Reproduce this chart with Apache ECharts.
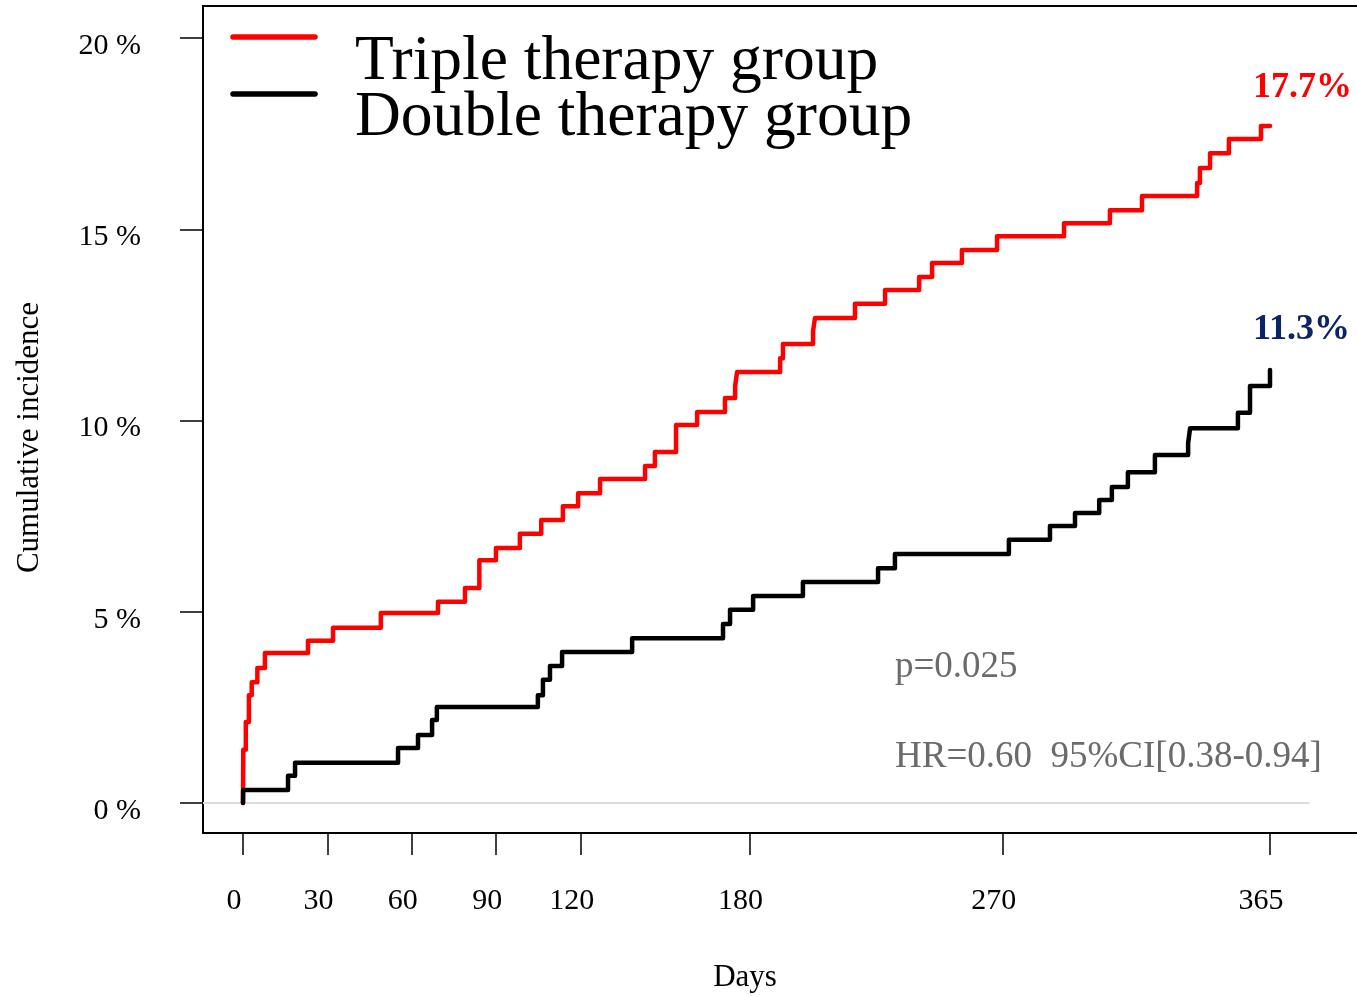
<!DOCTYPE html>
<html><head><meta charset="utf-8">
<script src="https://cdn.jsdelivr.net/npm/echarts@6/dist/echarts.min.js"></script>
<style>html,body{margin:0;padding:0;background:#fff}#c{width:1357px;height:996px}</style>
</head><body><div id="c"></div>
<script>
// ---- data ----
const xTicks = [0, 30, 60, 90, 120, 180, 270, 365];
const yTicks = [0, 5, 10, 15, 20];
const seriesNames = ['Triple therapy group', 'Double therapy group'];
const tripleDays = [0, 0.1, 1.0, 2.1, 3.1, 5.1, 7.8, 23.1, 32.0, 49.0, 69.3, 78.9, 84.0, 89.9, 98.4, 106.0, 113.7, 119.1, 126.9, 142.9, 146.4, 153.9, 161.4, 171.3, 174.9, 175.6, 190.9, 191.9, 202.6, 203.3, 217.5, 228.2, 240.3, 244.9, 255.5, 268.0, 291.8, 308.1, 319.5, 339.1, 340.1, 343.7, 350.4, 361.8, 365];
const triplePct  = [0, 1.39, 2.12, 2.82, 3.16, 3.53, 3.92, 4.24, 4.58, 4.97, 5.26, 5.62, 6.35, 6.67, 7.04, 7.40, 7.76, 8.10, 8.47, 8.81, 9.18, 9.88, 10.22, 10.59, 10.90, 11.27, 11.63, 12.00, 12.34, 12.68, 13.05, 13.41, 13.75, 14.12, 14.46, 14.82, 15.16, 15.50, 15.87, 16.21, 16.60, 16.99, 17.36, 17.70, 17.70];
const doubleDays = [0, 0.05, 16.0, 18.5, 55.1, 62.2, 67.2, 68.9, 104.8, 106.6, 109.1, 113.4, 138.3, 170.6, 173.1, 181.3, 199.0, 225.7, 231.7, 272.2, 286.8, 295.7, 304.3, 308.8, 314.5, 324.1, 335.9, 336.6, 353.6, 357.9, 365];
const doublePct  = [0, 0.34, 0.71, 1.05, 1.44, 1.78, 2.17, 2.51, 2.82, 3.22, 3.58, 3.95, 4.31, 4.68, 5.05, 5.41, 5.78, 6.14, 6.51, 6.88, 7.24, 7.58, 7.92, 8.26, 8.65, 9.10, 9.41, 9.80, 10.20, 10.90, 11.32];
const tripleFinal = '17.7%';
const doubleFinal = '11.3%';
const pText = 'p=0.025';
const hrText = 'HR=0.60  95%CI[0.38-0.94]';
const xName = 'Days';
const yName = 'Cumulative incidence';

// ---- build ----
const FONT = '"Liberation Serif","DejaVu Serif","Times New Roman",serif';
const zip = (a, b) => a.map((v, i) => [v, b[i]]);
const chart = echarts.init(document.getElementById('c'), null, {renderer: 'canvas'});
chart.setOption({
  animation: false,
  backgroundColor: '#fff',
  grid: {left: 203, top: 6, width: 1174, height: 827, show: true, borderColor: '#000', borderWidth: 2,
         backgroundColor: 'transparent', containLabel: false, outerBoundsMode: 'none'},
  xAxis: {
    type: 'value', min: -14.216, max: 403.03,
    axisLine: {show: false, onZero: false},
    splitLine: {show: false},
    axisTick: {show: true, length: 22, customValues: xTicks, lineStyle: {color: '#000', width: 1.5}},
    axisLabel: {customValues: xTicks, fontSize: 30, color: '#000', fontFamily: FONT, margin: 53, padding: [0, 18, 0, 0]},
    name: xName, nameLocation: 'middle', nameGap: 129,
    nameTextStyle: {fontSize: 31, color: '#000', fontFamily: FONT, padding: [0, 90, 0, 0]}
  },
  yAxis: {
    type: 'value', min: -0.784, max: 20.837,
    axisLine: {show: false, onZero: false},
    splitLine: {show: false},
    axisTick: {show: true, length: 23, customValues: yTicks, lineStyle: {color: '#000', width: 1.5}},
    axisLabel: {customValues: yTicks, formatter: v => v + ' %', fontSize: 30, color: '#000', fontFamily: FONT, margin: 62, verticalAlign: 'top', lineHeight: 16},
    name: yName, nameLocation: 'middle', nameGap: 158,
    nameTextStyle: {fontSize: 31, color: '#000', fontFamily: FONT, padding: [0, 36, 0, 0]}
  },
  series: [
    {type: 'line', silent: true, showSymbol: false, data: [[-14.216, 0], [379, 0]],
     lineStyle: {color: '#dcdcdc', width: 2}, z: 1},
    {name: seriesNames[0], type: 'line', step: 'end', showSymbol: false, data: zip(tripleDays, triplePct),
     lineStyle: {color: '#ff0000', width: 4.5, cap: 'round', join: 'round'}, itemStyle: {color: '#ff0000'}, z: 3},
    {name: seriesNames[1], type: 'line', step: 'end', showSymbol: false, data: zip(doubleDays, doublePct),
     lineStyle: {color: '#000000', width: 4.5, cap: 'round', join: 'round'}, itemStyle: {color: '#000'}, z: 4}
  ],
  graphic: [
    {type: 'line', shape: {x1: 233, y1: 37, x2: 315, y2: 37}, style: {stroke: '#ff0000', lineWidth: 5.5, lineCap: 'round'}},
    {type: 'line', shape: {x1: 233, y1: 94, x2: 315, y2: 94}, style: {stroke: '#000', lineWidth: 5.5, lineCap: 'round'}},
    {type: 'text', x: 355, y: 62, style: {text: seriesNames[0], font: '63.5px ' + FONT, fill: '#000', textVerticalAlign: 'middle'}},
    {type: 'text', x: 355, y: 118, style: {text: seriesNames[1], font: '63.5px ' + FONT, fill: '#000', textVerticalAlign: 'middle'}},
    {type: 'text', x: 1253, y: 88, style: {text: tripleFinal, font: 'bold 36px ' + FONT, fill: '#ff0000', textVerticalAlign: 'middle'}},
    {type: 'text', x: 1253, y: 330, style: {text: doubleFinal, font: 'bold 36px ' + FONT, fill: '#0a2466', textVerticalAlign: 'middle'}},
    {type: 'text', x: 895, y: 667, style: {text: pText, font: '37px ' + FONT, fill: '#6b6b6b', textVerticalAlign: 'middle'}},
    {type: 'text', x: 895, y: 757, style: {text: hrText, font: '37px ' + FONT, fill: '#6b6b6b', textVerticalAlign: 'middle'}}
  ]
});
</script>
</body></html>
